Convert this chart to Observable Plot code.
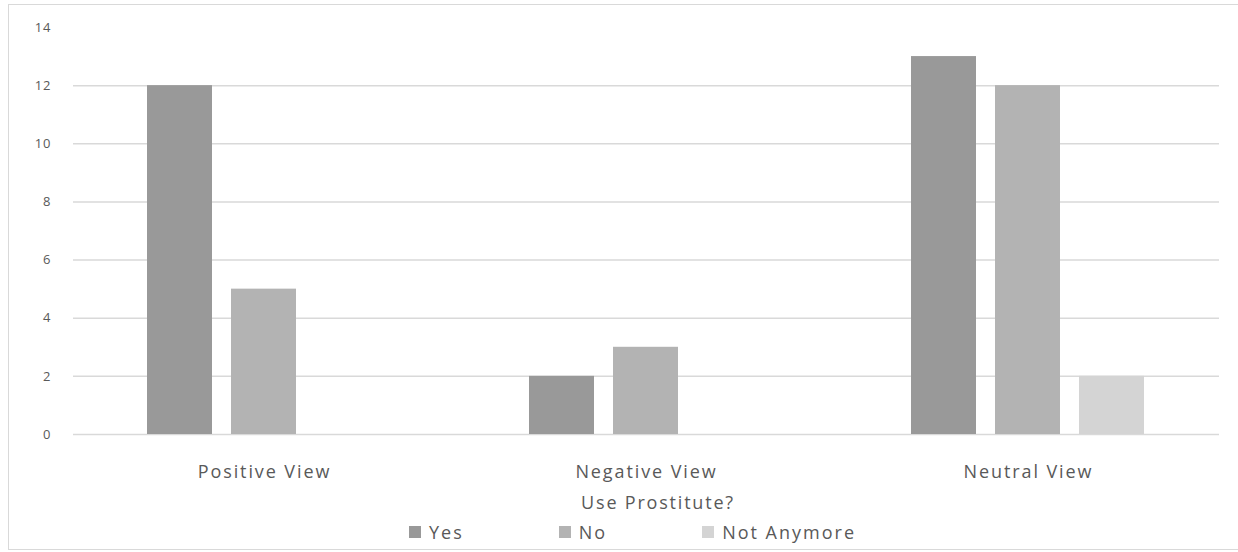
<!DOCTYPE html>
<html>
<head>
<meta charset="utf-8">
<script src="https://cdn.jsdelivr.net/npm/d3@7"></script>
<script src="https://cdn.jsdelivr.net/npm/@observablehq/plot@0.6"></script>
<style>
  html, body { margin: 0; padding: 0; background: #fff; }
  body { width: 1238px; height: 552px; position: relative; overflow: hidden; font-family: "Open Sans", sans-serif; color: #595959; }
  #frame { position: absolute; left: 8px; top: 4px; width: 1240px; height: 546px; border: 1px solid #d9d9d9; border-right: none; box-sizing: border-box; }
  #chart { position: absolute; left: 0; top: 0; }
  #axis-title { position: absolute; left: 558px; width: 200px; top: 490px; text-align: center; font-size: 18px; line-height: 24px; letter-spacing: 1.8px; }
  #legend { position: absolute; left: 409px; top: 520px; display: flex; gap: 95px; font-size: 18px; line-height: 24px; letter-spacing: 2px; }
  #legend .item { display: flex; align-items: center; gap: 8px; }
  #legend .sw { width: 12px; height: 12px; display: inline-block; }
</style>
</head>
<body>
<div id="frame"></div>
<div id="chart"></div>
<div id="axis-title"></div>
<div id="legend"></div>
<script>
// Opinion categories along the horizontal axis
const views = ["Positive View", "Negative View", "Neutral View"];
// Answer to "Use Prostitute?" — one bar per answer in each category
const series = ["Yes", "No", "Not Anymore"];
const seriesColors = ["#999999", "#b3b3b3", "#d4d4d4"];
// Counts per category, one array per answer
const yesValues = [12, 2, 13];
const noValues = [5, 3, 12];
const notAnymoreValues = [0, 0, 2];
// Value axis ticks
const yTicks = [0, 2, 4, 6, 8, 10, 12, 14];
const gridTicks = [0, 2, 4, 6, 8, 10, 12];
const axisTitle = "Use Prostitute?";

const valuesBySeries = [yesValues, noValues, notAnymoreValues];
const data = [];
views.forEach((view, i) => {
  series.forEach((s, j) => {
    data.push({view, series: s, value: valuesBySeries[j][i]});
  });
});

const chart = Plot.plot({
  width: 1238,
  height: 515,
  marginLeft: 72,
  marginRight: 18,
  marginTop: 27,
  marginBottom: 81,
  style: {fontFamily: "'Open Sans', sans-serif", color: "#595959", background: "transparent"},
  fx: {domain: views, padding: 0, label: null},
  x: {domain: series, paddingInner: 0.2235, paddingOuter: 0.863, axis: null},
  y: {domain: [0, 14], label: null},
  color: {domain: series, range: seriesColors},
  marks: [
    Plot.ruleY(gridTicks, {stroke: "#d9d9d9", strokeWidth: 1.5}),
    Plot.barY(data, {fx: "view", x: "series", y: "value", fill: "series"}),
    Plot.axisY({ticks: yTicks, tickSize: 0, tickPadding: 22, fontSize: 13, label: null}),
    Plot.axisFx({anchor: "bottom", tickSize: 0, tickPadding: 31, fontSize: 18, label: null})
  ]
});
chart.querySelectorAll("g[aria-label='fx-axis tick label'] text").forEach(t => t.setAttribute("letter-spacing", "1.9"));
chart.querySelectorAll("g[aria-label='y-axis tick label'] text").forEach(t => t.setAttribute("letter-spacing", "1"));
document.getElementById("chart").appendChild(chart);

document.getElementById("axis-title").textContent = axisTitle;
const legend = document.getElementById("legend");
series.forEach((s, j) => {
  const item = document.createElement("div");
  item.className = "item";
  const sw = document.createElement("span");
  sw.className = "sw";
  sw.style.background = seriesColors[j];
  const label = document.createElement("span");
  label.textContent = s;
  item.append(sw, label);
  legend.appendChild(item);
});
</script>
</body>
</html>
